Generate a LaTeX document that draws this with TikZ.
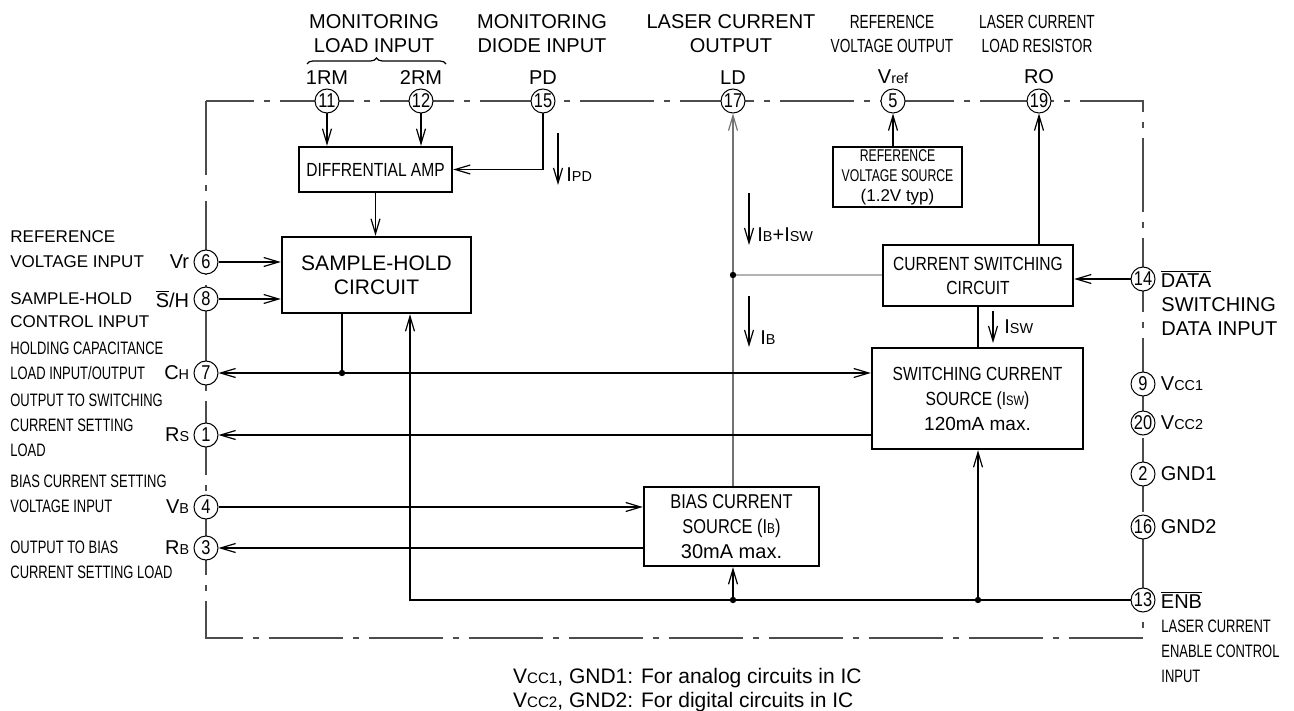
\documentclass[tikz,border=0pt]{standalone}
\usepackage{fontspec}
\setmainfont{Liberation Sans}
\newfontfamily\narrowfont[FakeStretch=0.82]{Liberation Sans}
\newfontfamily\condfont[FakeStretch=0.72]{Liberation Sans}
\usetikzlibrary{arrows.meta,positioning,decorations.pathreplacing}
\newcommand{\smc}[1]{\scalebox{0.72}{#1}}

\begin{document}
\begin{tikzpicture}[
    x=0.5pt, y=-0.5pt,
    >={Straight Barb[length=7.5pt,width=4.5pt]},
    box/.style={draw, line width=1.2pt, align=center, inner sep=0pt,
        font=\narrowfont\fontsize{9.5}{12}\selectfont},
    pin/.style={circle, draw, fill=white, line width=0.5pt, inner sep=0pt,
        minimum size=12pt, font=\narrowfont\fontsize{10}{10}\selectfont},
    sig/.style={line width=0.6pt},
    border/.style={line width=0.6pt, black!70,
        dash pattern=on 37pt off 5pt on 3pt off 5pt},
    head/.style={align=center, font=\fontsize{10}{12}\selectfont},
    subhead/.style={align=center, font=\condfont\fontsize{9.5}{12}\selectfont},
    pinlbl/.style={inner sep=1pt, font=\fontsize{10}{12}\selectfont},
    desc/.style={align=left, anchor=west, inner sep=0pt,
        font=\condfont\fontsize{9}{12.5}\selectfont},
    note/.style={align=left, inner sep=0pt, font=\fontsize{10.5}{12}\selectfont}
]
\useasboundingbox (0,0) rectangle (1294,711);

% IC outline
\draw[border] (206,101) rectangle (1143,638);

% Pins
\node[pin] (p11) at (327,101) {11};
\node[pin] (p12) at (421,101) {12};
\node[pin] (p15) at (543,101) {15};
\node[pin] (p17) at (733,101) {17};
\node[pin] (p5)  at (893,101) {5};
\node[pin] (p19) at (1039,101) {19};
\node[pin] (p6)  at (206,262) {6};
\node[pin] (p8)  at (206,299) {8};
\node[pin] (p7)  at (206,373) {7};
\node[pin] (p1)  at (206,435) {1};
\node[pin] (p4)  at (206,507) {4};
\node[pin] (p3)  at (206,548) {3};
\node[pin] (p14) at (1143,279) {14};
\node[pin] (p9)  at (1143,384) {9};
\node[pin] (p20) at (1143,423) {20};
\node[pin] (p2)  at (1143,474) {2};
\node[pin] (p16) at (1143,527) {16};
\node[pin] (p13) at (1143,600) {13};

% Blocks
\node[box, minimum width=76.5pt, minimum height=22.5pt] (DA) at (375.5,169.5) {DIFFRENTIAL AMP};
\node[box, minimum width=94.5pt, minimum height=38pt, font=\fontsize{10.5}{12}\selectfont] (SH) at (376.5,275) {SAMPLE-HOLD\\CIRCUIT};
\node[box, minimum width=64.5pt, minimum height=30pt, font=\fontsize{8.5}{10}\selectfont] (REF) at (897.5,177) {{\condfont REFERENCE}\\{\condfont VOLTAGE SOURCE}\\(1.2V typ)};
\node[box, minimum width=95pt, minimum height=30.5pt] (CSW) at (978,275.5) {CURRENT SWITCHING\\CIRCUIT};
\node[box, minimum width=105.5pt, minimum height=50.5pt, font=\narrowfont\fontsize{9.5}{12.5}\selectfont] (SWS) at (977.5,398.5) {SWITCHING CURRENT\\SOURCE (I\smc{SW})\\{\normalfont 120mA max.}};
\node[box, minimum width=87.5pt, minimum height=39.5pt, font=\fontsize{10}{12.5}\selectfont] (BIAS) at (731.5,526.5) {{\narrowfont BIAS CURRENT}\\{\narrowfont SOURCE (I\smc{B})}\\30mA max.};

% Top labels
\node[head] (hMon) at (374,34) {MONITORING\\LOAD INPUT};
\draw[sig, decorate, decoration={brace, amplitude=3pt}] (307,64) -- (446,64);
\node[head] (hPd)  at (542,34) {MONITORING\\DIODE INPUT};
\node[head] (hLd)  at (731,34) {LASER CURRENT\\OUTPUT};
\node[subhead] (hRef) at (892,34) {REFERENCE\\VOLTAGE OUTPUT};
\node[subhead] (hRo)  at (1037,34) {LASER CURRENT\\LOAD RESISTOR};
\node[pinlbl, above=1pt of p11] (l11) {1RM};
\node[pinlbl, above=1pt of p12] (l12) {2RM};
\node[pinlbl, above=1pt of p15] (l15) {PD};
\node[pinlbl, above=1pt of p17] (l17) {LD};
\node[pinlbl, above=1pt of p5]  (l5)  {V\smc{ref}};
\node[pinlbl, above=1pt of p19] (l19) {RO};

% Left labels
\node[pinlbl, left=1pt of p6] (l6) {Vr};
\node[pinlbl, left=1pt of p8] (l8) {\(\overline{\mbox{S}}\)/H};
\node[pinlbl, left=1pt of p7] (l7) {C\smc{H}};
\node[pinlbl, left=1pt of p1] (l1) {R\smc{S}};
\node[pinlbl, left=1pt of p4] (l4) {V\smc{B}};
\node[pinlbl, left=1pt of p3] (l3) {R\smc{B}};
\node[desc, font=\fontsize{8.5}{12.5}\selectfont] (d6) at (10,249.5) {REFERENCE\\VOLTAGE INPUT};
\node[desc, font=\fontsize{8.5}{11.5}\selectfont] (d8) at (10,310.5) {SAMPLE-HOLD\\CONTROL INPUT};
\node[desc] (d7) at (10,360.5) {HOLDING CAPACITANCE\\LOAD INPUT/OUTPUT};
\node[desc] (d1) at (10,425) {OUTPUT TO SWITCHING\\CURRENT SETTING\\LOAD};
\node[desc] (d4) at (10,493.5) {BIAS CURRENT SETTING\\VOLTAGE INPUT};
\node[desc] (d3) at (10,559.5) {OUTPUT TO BIAS\\CURRENT SETTING LOAD};

% Right labels
\node[pinlbl, right=1.5pt of p14] (l14) {\(\overline{\mbox{DATA}}\)};
\node[pinlbl, align=left, anchor=west] (d14) at (1159,316.5) {SWITCHING\\DATA INPUT};
\node[pinlbl, right=1.5pt of p9]  (l9)  {V\smc{CC1}};
\node[pinlbl, right=1.5pt of p20] (l20) {V\smc{CC2}};
\node[pinlbl, right=1.5pt of p2]  (l2)  {GND1};
\node[pinlbl, right=1.5pt of p16] (l16) {GND2};
\node[pinlbl, right=1.5pt of p13] (l13) {\(\overline{\mbox{ENB}}\)};
\node[desc] (d13) at (1161,651.5) {LASER CURRENT\\ENABLE CONTROL\\INPUT};

% Junctions
\coordinate (jc)  at (342,373);
\coordinate (enb) at (410,600);
\coordinate (jb)  at (733,600);
\coordinate (js)  at (978,600);
\coordinate (jl)  at (733,275);

% Connections
\draw[sig, black!55, ->] (BIAS.north -| p17) -- (p17);
\draw[line width=0.6pt, black!30] (jl) -- (jl -| CSW.west);
\fill (jl) circle (1.6pt);
\draw[sig, ->] (p11) -- (p11 |- DA.north);
\draw[sig, ->] (p12) -- (p12 |- DA.north);
\draw[sig, ->] (p15) |- (DA.east);
\draw[sig, ->] (DA.south) -- (DA.south |- SH.north);
\draw[sig, ->] (p6) -- (p6 -| SH.west);
\draw[sig, ->] (p8) -- (p8 -| SH.west);
\draw[sig] (SH.south -| jc) -- (jc);
\fill (jc) circle (1.6pt);
\draw[sig, <->] (p7) -- (p7 -| SWS.west);
\draw[sig, ->] (p1 -| SWS.west) -- (p1);
\draw[sig, ->] (p4) -- (p4 -| BIAS.west);
\draw[sig, ->] (p3 -| BIAS.west) -- (p3);
\draw[sig, ->] (p13) -- (enb) -- (enb |- SH.south);
\draw[sig, ->] (jb) -- (jb |- BIAS.south);
\draw[sig, ->] (js) -- (js |- SWS.south);
\fill (jb) circle (1.6pt);
\fill (js) circle (1.6pt);
\draw[sig, ->] (REF.north -| p5) -- (p5);
\draw[sig, ->] (CSW.north -| p19) -- (p19);
\draw[sig, ->] (p14) -- (p14 -| CSW.east);
\draw[sig] (CSW.south) -- (CSW.south |- SWS.north);

% Current arrows
\coordinate (ipdA) at (558,133);  \coordinate (ipdB) at (558,185);
\coordinate (ildA) at (749,193);  \coordinate (ildB) at (749,245);
\coordinate (ibA)  at (749,296);  \coordinate (ibB)  at (749,347);
\coordinate (iswA) at (993,311);  \coordinate (iswB) at (993,343);
\draw[sig, ->] (ipdA) -- (ipdB);
\draw[sig, ->] (ildA) -- (ildB);
\draw[sig, ->] (ibA) -- (ibB);
\draw[sig, ->] (iswA) -- (iswB);
\node[pinlbl, anchor=west] (tpd) at (564,175) {I\smc{PD}};
\node[pinlbl, anchor=west] (tld) at (755,235) {I\smc{B}+I\smc{SW}};
\node[pinlbl, anchor=west] (tb)  at (758,338) {I\smc{B}};
\node[pinlbl, anchor=west] (tsw) at (1002,327) {I\smc{SW}};

% Notes
\node[note, anchor=east] (notes) at (862,690) {V\smc{CC1}, GND1: For analog circuits in IC\\V\smc{CC2}, GND2: For digital circuits in IC};

\end{tikzpicture}
\end{document}
